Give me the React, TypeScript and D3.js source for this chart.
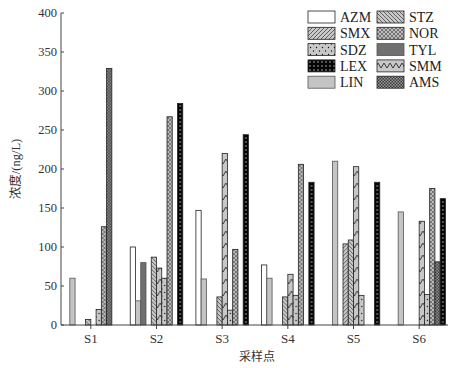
import React from 'react';
import * as d3 from 'd3';

const sites = ['S1', 'S2', 'S3', 'S4', 'S5', 'S6'];
// bar order inside each group
const seriesOrder = ['AZM', 'LIN', 'TYL', 'SMX', 'STZ', 'SMM', 'SDZ', 'NOR', 'AMS', 'LEX'];
// legend order (two columns)
const legendOrder = ['AZM', 'SMX', 'SDZ', 'LEX', 'LIN', 'STZ', 'NOR', 'TYL', 'SMM', 'AMS'];

const AZM = [0, 100, 147, 77, 0, 0];
const LIN = [60, 31, 59, 60, 210, 145];
const TYL = [0, 80, 0, 0, 0, 0];
const SMX = [0, 0, 0, 0, 104, 0];
const STZ = [7, 87, 36, 36, 109, 0];
const SMM = [0, 73, 220, 65, 203, 133];
const SDZ = [20, 60, 19, 38, 38, 39];
const NOR = [126, 267, 97, 206, 0, 175];
const AMS = [329, 0, 0, 0, 0, 81];
const LEX = [0, 284, 244, 183, 183, 162];

const yTicks = [0, 50, 100, 150, 200, 250, 300, 350, 400];

const values: Record<string, number[]> = { AZM, LIN, TYL, SMX, STZ, SMM, SDZ, NOR, AMS, LEX };

const fills: Record<string, string> = {
  AZM: '#ffffff',
  LIN: '#c4c4c4',
  TYL: '#707070',
  SMX: 'url(#p-smx)',
  STZ: 'url(#p-stz)',
  SMM: 'url(#p-smm)',
  SDZ: 'url(#p-sdz)',
  NOR: 'url(#p-nor)',
  AMS: 'url(#p-ams)',
  LEX: 'url(#p-lex)',
};

const serif = '"Liberation Serif", "DejaVu Serif", serif';

const Patterns = () => (
  <defs>
    <pattern id="p-smx" patternUnits="userSpaceOnUse" width="4" height="4">
      <rect width="4" height="4" fill="#c8c8c8" />
      <path d="M-1,1 L1,-1 M0,4 L4,0 M3,5 L5,3" stroke="#333" strokeWidth="0.7" />
    </pattern>
    <pattern id="p-stz" patternUnits="userSpaceOnUse" width="4" height="4">
      <rect width="4" height="4" fill="#c8c8c8" />
      <path d="M-1,3 L1,5 M0,0 L4,4 M3,-1 L5,1" stroke="#333" strokeWidth="0.7" />
    </pattern>
    <pattern id="p-sdz" patternUnits="userSpaceOnUse" width="6" height="7">
      <rect width="6" height="7" fill="#c8c8c8" />
      <circle cx="1.5" cy="2" r="0.7" fill="#111" />
      <circle cx="4.5" cy="5.5" r="0.7" fill="#111" />
    </pattern>
    <pattern id="p-lex" patternUnits="userSpaceOnUse" width="4" height="4">
      <rect width="4" height="4" fill="#050505" />
      <circle cx="2" cy="2" r="0.7" fill="#ddd" />
    </pattern>
    <pattern id="p-nor" patternUnits="userSpaceOnUse" width="4" height="4">
      <rect width="4" height="4" fill="#bcbcbc" />
      <path d="M0,0 L4,4 M0,4 L4,0" stroke="#444" strokeWidth="0.6" />
    </pattern>
    <pattern id="p-ams" patternUnits="userSpaceOnUse" width="3" height="3">
      <rect width="3" height="3" fill="#3a3a3a" />
      <rect x="0" y="0" width="1.5" height="1.5" fill="#999" />
      <rect x="1.5" y="1.5" width="1.5" height="1.5" fill="#999" />
    </pattern>
    <pattern id="p-smm" patternUnits="userSpaceOnUse" width="6" height="12">
      <rect width="6" height="12" fill="#c8c8c8" />
      <path d="M0,3 L3,8 L6,3" stroke="#111" strokeWidth="0.8" fill="none" />
    </pattern>
  </defs>
);

export default function App() {
  const width = 465;
  const height = 368;
  const axisLeft = 61;
  const axisRight = 448;

  const y = d3.scaleLinear().domain([0, 400]).range([325, 13]);
  const x0 = d3.scaleBand<string>().domain(sites).range([58, 452]).paddingInner(0.2).paddingOuter(0.1);
  const x1 = d3.scaleBand<string>().domain(seriesOrder).range([0, x0.bandwidth()]).padding(0);

  const legendX = [308, 377];
  const legendY0 = 11;
  const legendStep = 16.3;

  return (
    <svg
      width={width}
      height={height}
      style={{ position: 'absolute', left: 0, top: 0, background: '#fff' }}
    >
      <Patterns />

      {/* bars */}
      {sites.map((s, i) => (
        <g key={s} transform={`translate(${x0(s)},0)`}>
          {seriesOrder.map((k) => {
            const v = values[k][i];
            if (!v) return null;
            return (
              <rect
                key={k}
                x={x1(k)}
                y={y(v)}
                width={x1.bandwidth()}
                height={y(0) - y(v)}
                fill={fills[k]}
                stroke={k === 'LIN' || k === 'TYL' ? '#555' : '#222'}
                strokeWidth={0.8}
              />
            );
          })}
        </g>
      ))}

      {/* y axis */}
      <line x1={axisLeft} x2={axisLeft} y1={y(400)} y2={y(0)} stroke="#444" strokeWidth={1} />
      {yTicks.map((t) => (
        <g key={t}>
          <line x1={axisLeft} x2={axisLeft + 3} y1={y(t)} y2={y(t)} stroke="#444" />
          <text
            x={axisLeft - 4}
            y={y(t)}
            dy="0.35em"
            textAnchor="end"
            fontFamily={serif}
            fontSize={12.5}
            fill="#333"
          >
            {t}
          </text>
        </g>
      ))}
      <text
        transform={`translate(16,${(y(0) + y(400)) / 2}) rotate(-90)`}
        textAnchor="middle"
        dy="0.35em"
        fontFamily={'"Liberation Serif", "Noto Sans CJK SC", serif'}
        fontSize={12.5}
        fill="#333"
      >
        浓度/(ng/L)
      </text>

      {/* x axis */}
      <line x1={axisLeft} x2={axisRight} y1={y(0)} y2={y(0)} stroke="#444" strokeWidth={1} />
      {sites.map((s) => {
        const cx = (x0(s) as number) + x0.bandwidth() / 2;
        return (
          <g key={s}>
            <line x1={cx} x2={cx} y1={y(0)} y2={y(0) + 4} stroke="#444" />
            <text x={cx} y={343} textAnchor="middle" fontFamily={serif} fontSize={13} fill="#333">
              {s}
            </text>
          </g>
        );
      })}
      <text
        x={257}
        y={361}
        textAnchor="middle"
        fontFamily={'"Noto Sans CJK SC", sans-serif'}
        fontSize={12}
        fill="#333"
      >
        采样点
      </text>

      {/* legend */}
      {legendOrder.map((k, i) => {
        const col = Math.floor(i / 5);
        const row = i % 5;
        const lx = legendX[col];
        const ly = legendY0 + row * legendStep;
        return (
          <g key={k}>
            <rect
              x={lx}
              y={ly}
              width={27}
              height={12}
              fill={fills[k]}
              stroke={k === 'LIN' || k === 'TYL' ? '#555' : '#222'}
              strokeWidth={0.8}
            />
            <text x={lx + 32} y={ly + 6} dy="0.35em" fontFamily={serif} fontSize={14} fill="#222">
              {k}
            </text>
          </g>
        );
      })}
    </svg>
  );
}
